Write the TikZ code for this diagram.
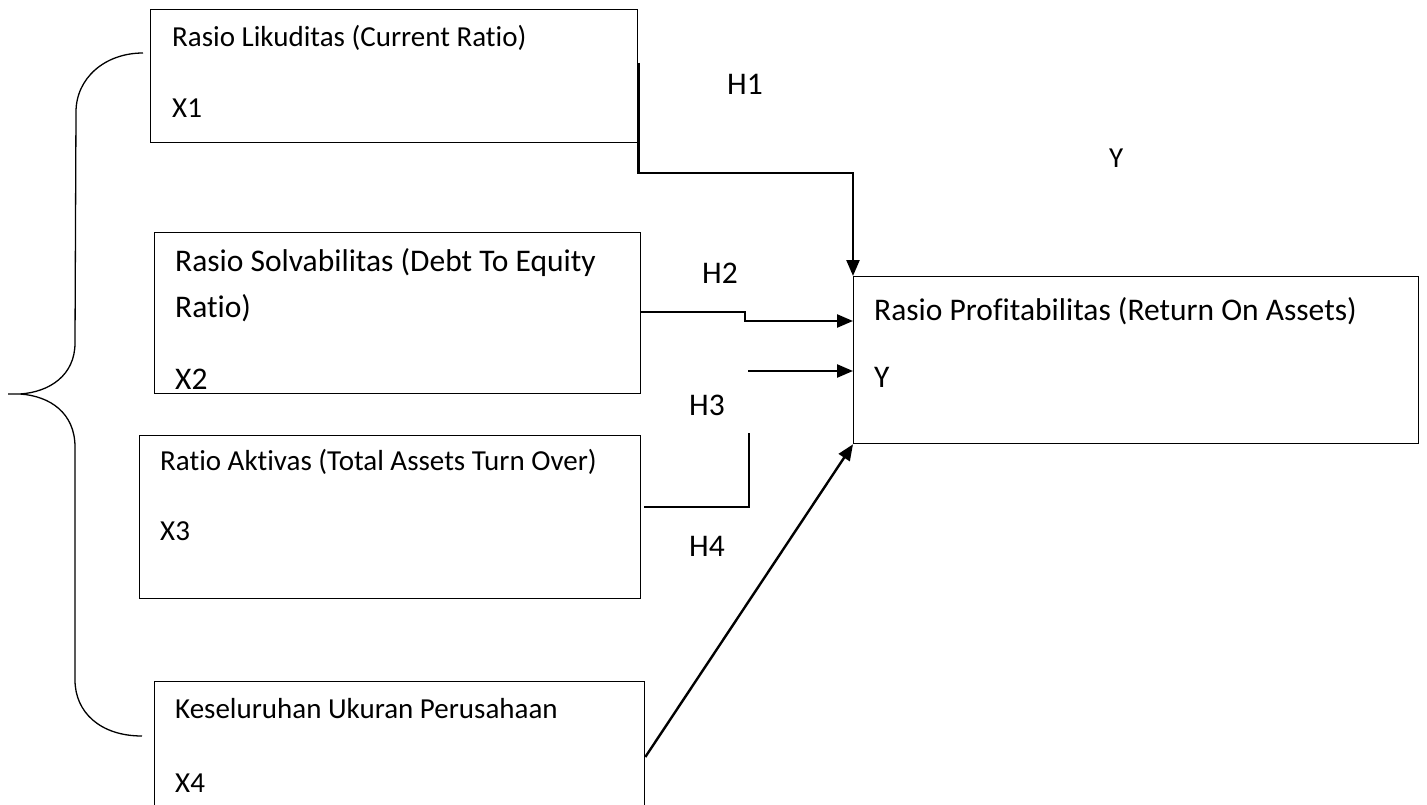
\documentclass[tikz,border=0pt]{standalone}
\usepackage{fontspec}
\setmainfont{Carlito}[Ligatures={NoCommon,NoContextual}]
\usetikzlibrary{arrows.meta}
\begin{document}
\begin{tikzpicture}[x=1pt,y=-1pt,
  box/.style={draw,line width=1.3pt,inner sep=0pt,anchor=north west},
  txt/.style={anchor=base west,inner sep=0pt,font=\fontsize{29}{35}\selectfont},
  txtl/.style={anchor=base west,inner sep=0pt,font=\fontsize{31.5}{38}\selectfont},
  conn/.style={line width=2.4pt},
  arr/.style={conn,-{Triangle[length=16pt,width=13pt]}},
  bracestyle/.style={line width=1.3pt}]
\useasboundingbox (0,0) rectangle (1427,805);
% boxes
\node[box,minimum width=487pt,minimum height=133pt] (b1) at (150,9) {};
\node[box,minimum width=486pt,minimum height=161pt] (b2) at (154,232) {};
\node[box,minimum width=501pt,minimum height=163pt] (b3) at (139,435) {};
\node[box,minimum width=490pt,minimum height=126pt] (b4) at (154,681) {};
\node[box,minimum width=565pt,minimum height=167pt] (by) at (853,276) {};
% box texts
\node[txt] (t1) at (172,47) {Rasio Likuditas (Current Ratio)};
\node[txt] (x1) at (172,118) {X1};
\node[txtl] (t2a) at (175,272) {Rasio Solvabilitas (Debt To Equity};
\node[txtl] (t2b) at (175,317) {Ratio)};
\node[txtl] (x2) at (175,389) {X2};
\node[txt] (t3) at (160,470) {Ratio Aktivas (Total Assets Turn Over)};
\node[txt] (x3) at (160,540) {X3};
\node[txt] (t4) at (175,718) {Keseluruhan Ukuran Perusahaan};
\node[txt] (x4) at (175,792) {X4};
\node[txtl] (ty) at (874,320) {Rasio Profitabilitas (Return On Assets)};
\node[txtl] (yy) at (874,387) {Y};
% labels
\node[txtl] (lh1) at (727,95) {H1};
\node[txtl] (lh2) at (702,283) {H2};
\node[txtl] (lh3) at (689,415) {H3};
\node[txtl] (lh4) at (689,556) {H4};
\node[txt] (ly) at (1109,168) {Y};
% connectors
\coordinate (a2s) at (748,371);
\coordinate (h3e) at (749,433);
\draw[arr] (b1.east |- 0,63) |- (by.north west |- 0,173) -- (by.north west);
\draw[arr] (b2.east |- 0,312) -- (745,312) -- (745,321) -- (by.west |- 0,321);
\draw[arr] (a2s) -- (by.west |- a2s);
\draw[conn] (644,507) -- (h3e |- 0,507) -- (h3e);
\draw[arr] (b4.east |- 0,757) -- (by.south west);
% brace
\draw[bracestyle] (143,53) .. controls (105,53) and (76,78) .. (76,112)
  -- (75,343) .. controls (75,375) and (50,392) .. (20,394) -- (8,394)
  -- (20,394) .. controls (50,396) and (75,413) .. (75,447)
  -- (75,680) .. controls (75,712) and (100,736) .. (142,736);
\end{tikzpicture}
\end{document}
